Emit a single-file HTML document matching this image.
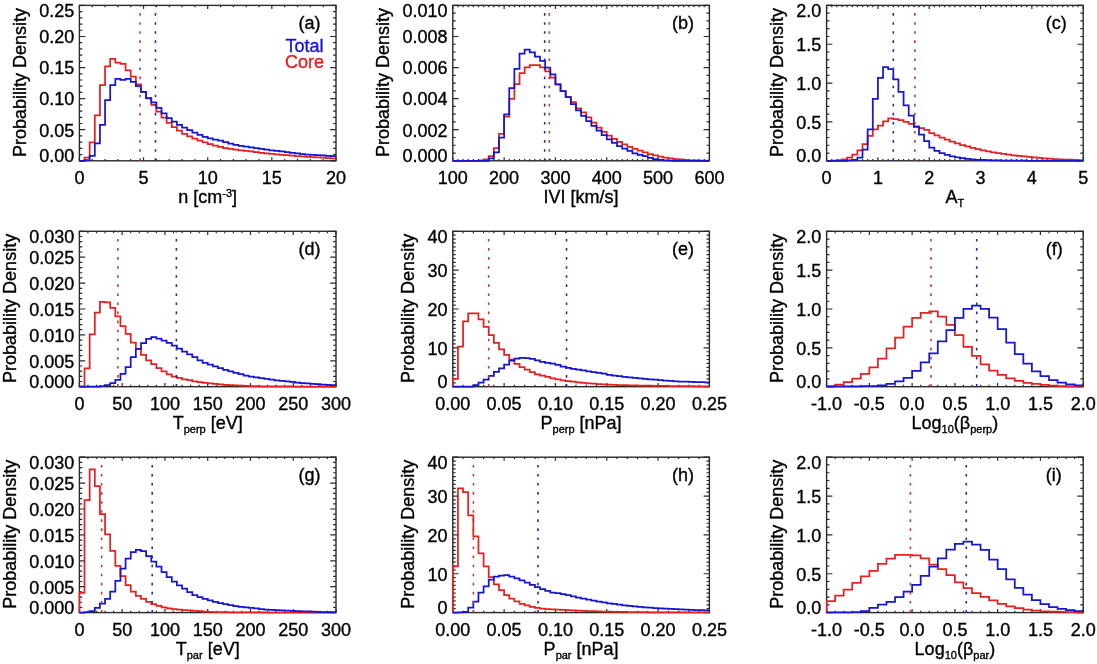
<!DOCTYPE html>
<html><head><meta charset="utf-8"><style>
html,body{margin:0;padding:0;background:#fff;}
svg{display:block;filter:blur(0.45px);}
text{font-family:"Liberation Sans",sans-serif;font-size:18px;fill:#000;stroke:#000;stroke-width:0.35px;}
</style></head><body>
<svg width="1097" height="664" viewBox="0 0 1097 664">
<rect width="1097" height="664" fill="#fff"/>
<clipPath id="cpa"><rect x="78.40" y="5.40" width="258.60" height="156.60"/></clipPath>
<rect x="79.40" y="5.40" width="256.60" height="155.40" fill="none" stroke="#2a2a2a" stroke-width="1.4"/>
<path d="M79.40,160.80v-3.6M79.40,5.40v3.6M92.23,160.80v-1.9M92.23,5.40v1.9M105.06,160.80v-1.9M105.06,5.40v1.9M117.89,160.80v-1.9M117.89,5.40v1.9M130.72,160.80v-1.9M130.72,5.40v1.9M143.55,160.80v-3.6M143.55,5.40v3.6M156.38,160.80v-1.9M156.38,5.40v1.9M169.21,160.80v-1.9M169.21,5.40v1.9M182.04,160.80v-1.9M182.04,5.40v1.9M194.87,160.80v-1.9M194.87,5.40v1.9M207.70,160.80v-3.6M207.70,5.40v3.6M220.53,160.80v-1.9M220.53,5.40v1.9M233.36,160.80v-1.9M233.36,5.40v1.9M246.19,160.80v-1.9M246.19,5.40v1.9M259.02,160.80v-1.9M259.02,5.40v1.9M271.85,160.80v-3.6M271.85,5.40v3.6M284.68,160.80v-1.9M284.68,5.40v1.9M297.51,160.80v-1.9M297.51,5.40v1.9M310.34,160.80v-1.9M310.34,5.40v1.9M323.17,160.80v-1.9M323.17,5.40v1.9M336.00,160.80v-3.6M336.00,5.40v3.6M79.40,160.80h5.8M336.00,160.80h-5.8M79.40,154.58h2.9M336.00,154.58h-2.9M79.40,148.37h2.9M336.00,148.37h-2.9M79.40,142.15h2.9M336.00,142.15h-2.9M79.40,135.94h2.9M336.00,135.94h-2.9M79.40,129.72h5.8M336.00,129.72h-5.8M79.40,123.50h2.9M336.00,123.50h-2.9M79.40,117.29h2.9M336.00,117.29h-2.9M79.40,111.07h2.9M336.00,111.07h-2.9M79.40,104.86h2.9M336.00,104.86h-2.9M79.40,98.64h5.8M336.00,98.64h-5.8M79.40,92.42h2.9M336.00,92.42h-2.9M79.40,86.21h2.9M336.00,86.21h-2.9M79.40,79.99h2.9M336.00,79.99h-2.9M79.40,73.78h2.9M336.00,73.78h-2.9M79.40,67.56h5.8M336.00,67.56h-5.8M79.40,61.34h2.9M336.00,61.34h-2.9M79.40,55.13h2.9M336.00,55.13h-2.9M79.40,48.91h2.9M336.00,48.91h-2.9M79.40,42.70h2.9M336.00,42.70h-2.9M79.40,36.48h5.8M336.00,36.48h-5.8M79.40,30.26h2.9M336.00,30.26h-2.9M79.40,24.05h2.9M336.00,24.05h-2.9M79.40,17.83h2.9M336.00,17.83h-2.9M79.40,11.62h2.9M336.00,11.62h-2.9M79.40,5.40h5.8M336.00,5.40h-5.8" stroke="#2a2a2a" stroke-width="1.2" fill="none"/>
<g clip-path="url(#cpa)">
<path d="M79.40,160.80 L79.40,160.80 L84.53,160.80 L84.53,157.69 L89.66,157.69 L89.66,142.40 L94.80,142.40 L94.80,115.42 L99.93,115.42 L99.93,85.21 L105.06,85.21 L105.06,66.32 L110.19,66.32 L110.19,58.98 L115.32,58.98 L115.32,62.59 L120.46,62.59 L120.46,63.83 L125.59,63.83 L125.59,70.30 L130.72,70.30 L130.72,76.57 L135.85,76.57 L135.85,84.34 L140.98,84.34 L140.98,91.80 L146.12,91.80 L146.12,98.33 L151.25,98.33 L151.25,104.86 L156.38,104.86 L156.38,111.67 L161.51,111.67 L161.51,117.67 L166.64,117.67 L166.64,122.90 L171.78,122.90 L171.78,127.05 L176.91,127.05 L176.91,130.65 L182.04,130.65 L182.04,133.75 L187.17,133.75 L187.17,136.38 L192.30,136.38 L192.30,138.63 L197.44,138.63 L197.44,140.61 L202.57,140.61 L202.57,142.42 L207.70,142.42 L207.70,144.13 L212.83,144.13 L212.83,145.68 L217.96,145.68 L217.96,146.99 L223.10,146.99 L223.10,148.01 L228.23,148.01 L228.23,148.88 L233.36,148.88 L233.36,149.64 L238.49,149.64 L238.49,150.31 L243.62,150.31 L243.62,150.87 L248.76,150.87 L248.76,151.48 L253.89,151.48 L253.89,152.12 L259.02,152.12 L259.02,152.76 L264.15,152.76 L264.15,153.34 L269.28,153.34 L269.28,153.85 L274.42,153.85 L274.42,154.31 L279.55,154.31 L279.55,154.76 L284.68,154.76 L284.68,155.19 L289.81,155.19 L289.81,155.62 L294.94,155.62 L294.94,156.03 L300.08,156.03 L300.08,156.42 L305.21,156.42 L305.21,156.77 L310.34,156.77 L310.34,157.09 L315.47,157.09 L315.47,157.40 L320.60,157.40 L320.60,157.71 L325.74,157.71 L325.74,158.01 L330.87,158.01 L330.87,158.31 L336.00,158.31" fill="none" stroke="#e52020" stroke-width="1.75" stroke-linejoin="miter"/>
<path d="M79.40,160.80 L79.40,160.80 L84.53,160.80 L84.53,160.18 L89.66,160.18 L89.66,155.83 L94.80,155.83 L94.80,143.40 L99.93,143.40 L99.93,124.75 L105.06,124.75 L105.06,100.07 L110.19,100.07 L110.19,85.21 L115.32,85.21 L115.32,78.75 L120.46,78.75 L120.46,79.99 L125.59,79.99 L125.59,78.87 L130.72,78.87 L130.72,81.98 L135.85,81.98 L135.85,86.21 L140.98,86.21 L140.98,91.80 L146.12,91.80 L146.12,98.02 L151.25,98.02 L151.25,102.37 L156.38,102.37 L156.38,107.96 L161.51,107.96 L161.51,113.27 L166.64,113.27 L166.64,118.05 L171.78,118.05 L171.78,121.73 L176.91,121.73 L176.91,124.84 L182.04,124.84 L182.04,127.59 L187.17,127.59 L187.17,130.20 L192.30,130.20 L192.30,132.70 L197.44,132.70 L197.44,134.95 L202.57,134.95 L202.57,136.80 L207.70,136.80 L207.70,138.25 L212.83,138.25 L212.83,139.50 L217.96,139.50 L217.96,140.74 L223.10,140.74 L223.10,142.14 L228.23,142.14 L228.23,143.57 L233.36,143.57 L233.36,144.84 L238.49,144.84 L238.49,145.78 L243.62,145.78 L243.62,146.51 L248.76,146.51 L248.76,147.27 L253.89,147.27 L253.89,148.08 L259.02,148.08 L259.02,148.88 L264.15,148.88 L264.15,149.61 L269.28,149.61 L269.28,150.26 L274.42,150.26 L274.42,150.86 L279.55,150.86 L279.55,151.45 L284.68,151.45 L284.68,152.07 L289.81,152.07 L289.81,152.78 L294.94,152.78 L294.94,153.49 L300.08,153.49 L300.08,154.09 L305.21,154.09 L305.21,154.52 L310.34,154.52 L310.34,154.86 L315.47,154.86 L315.47,155.17 L320.60,155.17 L320.60,155.47 L325.74,155.47 L325.74,155.75 L330.87,155.75 L330.87,156.01 L336.00,156.01" fill="none" stroke="#1515d2" stroke-width="1.75" stroke-linejoin="miter"/>
<line x1="140.09" y1="160.80" x2="140.09" y2="5.40" stroke="#c03a3a" stroke-width="1.6" stroke-dasharray="2.6 6.47"/>
<line x1="155.48" y1="160.80" x2="155.48" y2="5.40" stroke="#2a2a9a" stroke-width="1.6" stroke-dasharray="2.6 6.47"/>
</g>
<text x="79.40" y="184.00" text-anchor="middle">0</text>
<text x="143.55" y="184.00" text-anchor="middle">5</text>
<text x="207.70" y="184.00" text-anchor="middle">10</text>
<text x="271.85" y="184.00" text-anchor="middle">15</text>
<text x="336.00" y="184.00" text-anchor="middle">20</text>
<text x="74.20" y="162.00" text-anchor="end">0.00</text>
<text x="74.20" y="136.52" text-anchor="end">0.05</text>
<text x="74.20" y="105.44" text-anchor="end">0.10</text>
<text x="74.20" y="74.36" text-anchor="end">0.15</text>
<text x="74.20" y="43.28" text-anchor="end">0.20</text>
<text x="74.20" y="16.80" text-anchor="end">0.25</text>
<text x="207.70" y="202.80" text-anchor="middle">n [cm<tspan dy="-6" font-size="11">-3</tspan><tspan dy="6">]</tspan></text>
<text transform="translate(25.77,82.50) rotate(-90)" text-anchor="middle">Probability Density</text>
<text x="298.60" y="29.10">(a)</text>
<text x="304.50" y="51.90" text-anchor="middle" style="fill:#1515d2;stroke:#1515d2">Total</text>
<text x="304.50" y="67.70" text-anchor="middle" style="fill:#e52020;stroke:#e52020">Core</text>
<clipPath id="cpb"><rect x="451.80" y="5.40" width="258.60" height="156.60"/></clipPath>
<rect x="452.80" y="5.40" width="256.60" height="155.40" fill="none" stroke="#2a2a2a" stroke-width="1.4"/>
<path d="M452.80,160.80v-3.6M452.80,5.40v3.6M457.93,160.80v-1.9M457.93,5.40v1.9M463.06,160.80v-1.9M463.06,5.40v1.9M468.20,160.80v-1.9M468.20,5.40v1.9M473.33,160.80v-1.9M473.33,5.40v1.9M478.46,160.80v-1.9M478.46,5.40v1.9M483.59,160.80v-1.9M483.59,5.40v1.9M488.72,160.80v-1.9M488.72,5.40v1.9M493.86,160.80v-1.9M493.86,5.40v1.9M498.99,160.80v-1.9M498.99,5.40v1.9M504.12,160.80v-3.6M504.12,5.40v3.6M509.25,160.80v-1.9M509.25,5.40v1.9M514.38,160.80v-1.9M514.38,5.40v1.9M519.52,160.80v-1.9M519.52,5.40v1.9M524.65,160.80v-1.9M524.65,5.40v1.9M529.78,160.80v-1.9M529.78,5.40v1.9M534.91,160.80v-1.9M534.91,5.40v1.9M540.04,160.80v-1.9M540.04,5.40v1.9M545.18,160.80v-1.9M545.18,5.40v1.9M550.31,160.80v-1.9M550.31,5.40v1.9M555.44,160.80v-3.6M555.44,5.40v3.6M560.57,160.80v-1.9M560.57,5.40v1.9M565.70,160.80v-1.9M565.70,5.40v1.9M570.84,160.80v-1.9M570.84,5.40v1.9M575.97,160.80v-1.9M575.97,5.40v1.9M581.10,160.80v-1.9M581.10,5.40v1.9M586.23,160.80v-1.9M586.23,5.40v1.9M591.36,160.80v-1.9M591.36,5.40v1.9M596.50,160.80v-1.9M596.50,5.40v1.9M601.63,160.80v-1.9M601.63,5.40v1.9M606.76,160.80v-3.6M606.76,5.40v3.6M611.89,160.80v-1.9M611.89,5.40v1.9M617.02,160.80v-1.9M617.02,5.40v1.9M622.16,160.80v-1.9M622.16,5.40v1.9M627.29,160.80v-1.9M627.29,5.40v1.9M632.42,160.80v-1.9M632.42,5.40v1.9M637.55,160.80v-1.9M637.55,5.40v1.9M642.68,160.80v-1.9M642.68,5.40v1.9M647.82,160.80v-1.9M647.82,5.40v1.9M652.95,160.80v-1.9M652.95,5.40v1.9M658.08,160.80v-3.6M658.08,5.40v3.6M663.21,160.80v-1.9M663.21,5.40v1.9M668.34,160.80v-1.9M668.34,5.40v1.9M673.48,160.80v-1.9M673.48,5.40v1.9M678.61,160.80v-1.9M678.61,5.40v1.9M683.74,160.80v-1.9M683.74,5.40v1.9M688.87,160.80v-1.9M688.87,5.40v1.9M694.00,160.80v-1.9M694.00,5.40v1.9M699.14,160.80v-1.9M699.14,5.40v1.9M704.27,160.80v-1.9M704.27,5.40v1.9M709.40,160.80v-3.6M709.40,5.40v3.6M452.80,160.80h5.8M709.40,160.80h-5.8M452.80,153.03h2.9M709.40,153.03h-2.9M452.80,145.26h2.9M709.40,145.26h-2.9M452.80,137.49h2.9M709.40,137.49h-2.9M452.80,129.72h5.8M709.40,129.72h-5.8M452.80,121.95h2.9M709.40,121.95h-2.9M452.80,114.18h2.9M709.40,114.18h-2.9M452.80,106.41h2.9M709.40,106.41h-2.9M452.80,98.64h5.8M709.40,98.64h-5.8M452.80,90.87h2.9M709.40,90.87h-2.9M452.80,83.10h2.9M709.40,83.10h-2.9M452.80,75.33h2.9M709.40,75.33h-2.9M452.80,67.56h5.8M709.40,67.56h-5.8M452.80,59.79h2.9M709.40,59.79h-2.9M452.80,52.02h2.9M709.40,52.02h-2.9M452.80,44.25h2.9M709.40,44.25h-2.9M452.80,36.48h5.8M709.40,36.48h-5.8M452.80,28.71h2.9M709.40,28.71h-2.9M452.80,20.94h2.9M709.40,20.94h-2.9M452.80,13.17h2.9M709.40,13.17h-2.9M452.80,5.40h5.8M709.40,5.40h-5.8" stroke="#2a2a2a" stroke-width="1.2" fill="none"/>
<g clip-path="url(#cpb)">
<path d="M452.80,160.80 L452.80,160.80 L457.93,160.80 L457.93,160.80 L463.06,160.80 L463.06,160.80 L468.20,160.80 L468.20,160.80 L473.33,160.80 L473.33,160.80 L478.46,160.80 L478.46,160.33 L483.59,160.33 L483.59,159.25 L488.72,159.25 L488.72,156.14 L493.86,156.14 L493.86,148.06 L498.99,148.06 L498.99,133.92 L504.12,133.92 L504.12,116.51 L509.25,116.51 L509.25,98.80 L514.38,98.80 L514.38,84.03 L519.52,84.03 L519.52,73.15 L524.65,73.15 L524.65,67.25 L529.78,67.25 L529.78,65.07 L534.91,65.07 L534.91,65.23 L540.04,65.23 L540.04,67.25 L545.18,67.25 L545.18,71.45 L550.31,71.45 L550.31,77.66 L555.44,77.66 L555.44,84.34 L560.57,84.34 L560.57,91.18 L565.70,91.18 L565.70,97.09 L570.84,97.09 L570.84,102.06 L575.97,102.06 L575.97,108.27 L581.10,108.27 L581.10,112.39 L586.23,112.39 L586.23,117.27 L591.36,117.27 L591.36,122.69 L596.50,122.69 L596.50,127.50 L601.63,127.50 L601.63,131.81 L606.76,131.81 L606.76,135.63 L611.89,135.63 L611.89,138.92 L617.02,138.92 L617.02,141.84 L622.16,141.84 L622.16,144.48 L627.29,144.48 L627.29,146.81 L632.42,146.81 L632.42,148.84 L637.55,148.84 L637.55,150.65 L642.68,150.65 L642.68,152.34 L647.82,152.34 L647.82,154.12 L652.95,154.12 L652.95,155.49 L658.08,155.49 L658.08,156.61 L663.21,156.61 L663.21,157.74 L668.34,157.74 L668.34,158.49 L673.48,158.49 L673.48,159.03 L678.61,159.03 L678.61,159.45 L683.74,159.45 L683.74,159.91 L688.87,159.91 L688.87,160.26 L694.00,160.26 L694.00,160.46 L699.14,160.46 L699.14,160.58 L704.27,160.58 L704.27,160.64 L709.40,160.64" fill="none" stroke="#e52020" stroke-width="1.75" stroke-linejoin="miter"/>
<path d="M452.80,160.80 L452.80,160.80 L457.93,160.80 L457.93,160.80 L463.06,160.80 L463.06,160.80 L468.20,160.80 L468.20,160.80 L473.33,160.80 L473.33,160.80 L478.46,160.80 L478.46,160.80 L483.59,160.80 L483.59,160.80 L488.72,160.80 L488.72,158.47 L493.86,158.47 L493.86,152.25 L498.99,152.25 L498.99,137.65 L504.12,137.65 L504.12,114.49 L509.25,114.49 L509.25,88.23 L514.38,88.23 L514.38,68.96 L519.52,68.96 L519.52,53.73 L524.65,53.73 L524.65,49.53 L529.78,49.53 L529.78,52.49 L534.91,52.49 L534.91,56.53 L540.04,56.53 L540.04,60.88 L545.18,60.88 L545.18,67.56 L550.31,67.56 L550.31,74.40 L555.44,74.40 L555.44,84.34 L560.57,84.34 L560.57,91.03 L565.70,91.03 L565.70,97.09 L570.84,97.09 L570.84,104.23 L575.97,104.23 L575.97,110.45 L581.10,110.45 L581.10,115.93 L586.23,115.93 L586.23,121.06 L591.36,121.06 L591.36,125.96 L596.50,125.96 L596.50,130.65 L601.63,130.65 L601.63,135.23 L606.76,135.23 L606.76,139.35 L611.89,139.35 L611.89,142.98 L617.02,142.98 L617.02,146.17 L622.16,146.17 L622.16,148.71 L627.29,148.71 L627.29,150.85 L632.42,150.85 L632.42,153.27 L637.55,153.27 L637.55,154.98 L642.68,154.98 L642.68,156.21 L647.82,156.21 L647.82,157.92 L652.95,157.92 L652.95,159.06 L658.08,159.06 L658.08,159.81 L663.21,159.81 L663.21,160.39 L668.34,160.39 L668.34,160.64 L673.48,160.64 L673.48,160.78 L678.61,160.78 L678.61,160.80 L683.74,160.80 L683.74,160.80 L688.87,160.80 L688.87,160.80 L694.00,160.80 L694.00,160.80 L699.14,160.80 L699.14,160.80 L704.27,160.80 L704.27,160.80 L709.40,160.80" fill="none" stroke="#1515d2" stroke-width="1.75" stroke-linejoin="miter"/>
<line x1="549.28" y1="160.80" x2="549.28" y2="5.40" stroke="#c03a3a" stroke-width="1.6" stroke-dasharray="2.6 6.47"/>
<line x1="544.66" y1="160.80" x2="544.66" y2="5.40" stroke="#2a2a9a" stroke-width="1.6" stroke-dasharray="2.6 6.47"/>
</g>
<text x="452.80" y="184.00" text-anchor="middle">100</text>
<text x="504.12" y="184.00" text-anchor="middle">200</text>
<text x="555.44" y="184.00" text-anchor="middle">300</text>
<text x="606.76" y="184.00" text-anchor="middle">400</text>
<text x="658.08" y="184.00" text-anchor="middle">500</text>
<text x="709.40" y="184.00" text-anchor="middle">600</text>
<text x="447.60" y="162.00" text-anchor="end">0.000</text>
<text x="447.60" y="136.52" text-anchor="end">0.002</text>
<text x="447.60" y="105.44" text-anchor="end">0.004</text>
<text x="447.60" y="74.36" text-anchor="end">0.006</text>
<text x="447.60" y="43.28" text-anchor="end">0.008</text>
<text x="447.60" y="16.80" text-anchor="end">0.010</text>
<text x="581.10" y="202.80" text-anchor="middle">IVI [km/s]</text>
<text transform="translate(389.16,82.50) rotate(-90)" text-anchor="middle">Probability Density</text>
<text x="672.00" y="29.10">(b)</text>
<clipPath id="cpc"><rect x="825.60" y="5.40" width="258.60" height="156.60"/></clipPath>
<rect x="826.60" y="5.40" width="256.60" height="155.40" fill="none" stroke="#2a2a2a" stroke-width="1.4"/>
<path d="M826.60,160.80v-3.6M826.60,5.40v3.6M831.73,160.80v-1.9M831.73,5.40v1.9M836.86,160.80v-1.9M836.86,5.40v1.9M842.00,160.80v-1.9M842.00,5.40v1.9M847.13,160.80v-1.9M847.13,5.40v1.9M852.26,160.80v-1.9M852.26,5.40v1.9M857.39,160.80v-1.9M857.39,5.40v1.9M862.52,160.80v-1.9M862.52,5.40v1.9M867.66,160.80v-1.9M867.66,5.40v1.9M872.79,160.80v-1.9M872.79,5.40v1.9M877.92,160.80v-3.6M877.92,5.40v3.6M883.05,160.80v-1.9M883.05,5.40v1.9M888.18,160.80v-1.9M888.18,5.40v1.9M893.32,160.80v-1.9M893.32,5.40v1.9M898.45,160.80v-1.9M898.45,5.40v1.9M903.58,160.80v-1.9M903.58,5.40v1.9M908.71,160.80v-1.9M908.71,5.40v1.9M913.84,160.80v-1.9M913.84,5.40v1.9M918.98,160.80v-1.9M918.98,5.40v1.9M924.11,160.80v-1.9M924.11,5.40v1.9M929.24,160.80v-3.6M929.24,5.40v3.6M934.37,160.80v-1.9M934.37,5.40v1.9M939.50,160.80v-1.9M939.50,5.40v1.9M944.64,160.80v-1.9M944.64,5.40v1.9M949.77,160.80v-1.9M949.77,5.40v1.9M954.90,160.80v-1.9M954.90,5.40v1.9M960.03,160.80v-1.9M960.03,5.40v1.9M965.16,160.80v-1.9M965.16,5.40v1.9M970.30,160.80v-1.9M970.30,5.40v1.9M975.43,160.80v-1.9M975.43,5.40v1.9M980.56,160.80v-3.6M980.56,5.40v3.6M985.69,160.80v-1.9M985.69,5.40v1.9M990.82,160.80v-1.9M990.82,5.40v1.9M995.96,160.80v-1.9M995.96,5.40v1.9M1001.09,160.80v-1.9M1001.09,5.40v1.9M1006.22,160.80v-1.9M1006.22,5.40v1.9M1011.35,160.80v-1.9M1011.35,5.40v1.9M1016.48,160.80v-1.9M1016.48,5.40v1.9M1021.62,160.80v-1.9M1021.62,5.40v1.9M1026.75,160.80v-1.9M1026.75,5.40v1.9M1031.88,160.80v-3.6M1031.88,5.40v3.6M1037.01,160.80v-1.9M1037.01,5.40v1.9M1042.14,160.80v-1.9M1042.14,5.40v1.9M1047.28,160.80v-1.9M1047.28,5.40v1.9M1052.41,160.80v-1.9M1052.41,5.40v1.9M1057.54,160.80v-1.9M1057.54,5.40v1.9M1062.67,160.80v-1.9M1062.67,5.40v1.9M1067.80,160.80v-1.9M1067.80,5.40v1.9M1072.94,160.80v-1.9M1072.94,5.40v1.9M1078.07,160.80v-1.9M1078.07,5.40v1.9M1083.20,160.80v-3.6M1083.20,5.40v3.6M826.60,160.80h5.8M1083.20,160.80h-5.8M826.60,153.03h2.9M1083.20,153.03h-2.9M826.60,145.26h2.9M1083.20,145.26h-2.9M826.60,137.49h2.9M1083.20,137.49h-2.9M826.60,129.72h2.9M1083.20,129.72h-2.9M826.60,121.95h5.8M1083.20,121.95h-5.8M826.60,114.18h2.9M1083.20,114.18h-2.9M826.60,106.41h2.9M1083.20,106.41h-2.9M826.60,98.64h2.9M1083.20,98.64h-2.9M826.60,90.87h2.9M1083.20,90.87h-2.9M826.60,83.10h5.8M1083.20,83.10h-5.8M826.60,75.33h2.9M1083.20,75.33h-2.9M826.60,67.56h2.9M1083.20,67.56h-2.9M826.60,59.79h2.9M1083.20,59.79h-2.9M826.60,52.02h2.9M1083.20,52.02h-2.9M826.60,44.25h5.8M1083.20,44.25h-5.8M826.60,36.48h2.9M1083.20,36.48h-2.9M826.60,28.71h2.9M1083.20,28.71h-2.9M826.60,20.94h2.9M1083.20,20.94h-2.9M826.60,13.17h2.9M1083.20,13.17h-2.9M826.60,5.40h5.8M1083.20,5.40h-5.8" stroke="#2a2a2a" stroke-width="1.2" fill="none"/>
<g clip-path="url(#cpc)">
<path d="M826.60,160.80 L826.60,160.80 L831.73,160.80 L831.73,160.64 L836.86,160.64 L836.86,160.18 L842.00,160.18 L842.00,159.25 L847.13,159.25 L847.13,157.69 L852.26,157.69 L852.26,154.51 L857.39,154.51 L857.39,150.31 L862.52,150.31 L862.52,144.02 L867.66,144.02 L867.66,135.94 L872.79,135.94 L872.79,129.33 L877.92,129.33 L877.92,125.68 L883.05,125.68 L883.05,121.41 L888.18,121.41 L888.18,118.38 L893.32,118.38 L893.32,119.00 L898.45,119.00 L898.45,120.24 L903.58,120.24 L903.58,121.95 L908.71,121.95 L908.71,123.89 L913.84,123.89 L913.84,126.30 L918.98,126.30 L918.98,128.09 L924.11,128.09 L924.11,129.88 L929.24,129.88 L929.24,133.01 L934.37,133.01 L934.37,135.27 L939.50,135.27 L939.50,137.54 L944.64,137.54 L944.64,139.73 L949.77,139.73 L949.77,141.65 L954.90,141.65 L954.90,143.40 L960.03,143.40 L960.03,145.00 L965.16,145.00 L965.16,146.48 L970.30,146.48 L970.30,147.82 L975.43,147.82 L975.43,149.14 L980.56,149.14 L980.56,150.49 L985.69,150.49 L985.69,151.48 L990.82,151.48 L990.82,152.25 L995.96,152.25 L995.96,153.07 L1001.09,153.07 L1001.09,153.91 L1006.22,153.91 L1006.22,154.65 L1011.35,154.65 L1011.35,155.29 L1016.48,155.29 L1016.48,155.87 L1021.62,155.87 L1021.62,156.42 L1026.75,156.42 L1026.75,156.95 L1031.88,156.95 L1031.88,157.48 L1037.01,157.48 L1037.01,157.98 L1042.14,157.98 L1042.14,158.39 L1047.28,158.39 L1047.28,158.73 L1052.41,158.73 L1052.41,159.02 L1057.54,159.02 L1057.54,159.28 L1062.67,159.28 L1062.67,159.52 L1067.80,159.52 L1067.80,159.73 L1072.94,159.73 L1072.94,159.92 L1078.07,159.92 L1078.07,160.09 L1083.20,160.09" fill="none" stroke="#e52020" stroke-width="1.75" stroke-linejoin="miter"/>
<path d="M826.60,160.80 L826.60,160.80 L831.73,160.80 L831.73,160.80 L836.86,160.80 L836.86,160.80 L842.00,160.80 L842.00,160.80 L847.13,160.80 L847.13,160.49 L852.26,160.49 L852.26,159.87 L857.39,159.87 L857.39,157.69 L862.52,157.69 L862.52,149.53 L867.66,149.53 L867.66,129.33 L872.79,129.33 L872.79,98.80 L877.92,98.80 L877.92,77.82 L883.05,77.82 L883.05,67.02 L888.18,67.02 L888.18,69.04 L893.32,69.04 L893.32,79.29 L898.45,79.29 L898.45,91.88 L903.58,91.88 L903.58,105.48 L908.71,105.48 L908.71,115.73 L913.84,115.73 L913.84,126.92 L918.98,126.92 L918.98,134.69 L924.11,134.69 L924.11,141.06 L929.24,141.06 L929.24,147.56 L934.37,147.56 L934.37,150.99 L939.50,150.99 L939.50,153.22 L944.64,153.22 L944.64,154.83 L949.77,154.83 L949.77,156.25 L954.90,156.25 L954.90,157.38 L960.03,157.38 L960.03,158.13 L965.16,158.13 L965.16,158.75 L970.30,158.75 L970.30,159.37 L975.43,159.37 L975.43,159.75 L980.56,159.75 L980.56,159.95 L985.69,159.95 L985.69,160.14 L990.82,160.14 L990.82,160.32 L995.96,160.32 L995.96,160.46 L1001.09,160.46 L1001.09,160.55 L1006.22,160.55 L1006.22,160.62 L1011.35,160.62 L1011.35,160.67 L1016.48,160.67 L1016.48,160.71 L1021.62,160.71 L1021.62,160.73 L1026.75,160.73 L1026.75,160.75 L1031.88,160.75 L1031.88,160.77 L1037.01,160.77 L1037.01,160.78 L1042.14,160.78 L1042.14,160.79 L1047.28,160.79 L1047.28,160.80 L1052.41,160.80 L1052.41,160.80 L1057.54,160.80 L1057.54,160.80 L1062.67,160.80 L1062.67,160.80 L1067.80,160.80 L1067.80,160.80 L1072.94,160.80 L1072.94,160.80 L1078.07,160.80 L1078.07,160.80 L1083.20,160.80" fill="none" stroke="#1515d2" stroke-width="1.75" stroke-linejoin="miter"/>
<line x1="914.87" y1="160.80" x2="914.87" y2="5.40" stroke="#c03a3a" stroke-width="1.6" stroke-dasharray="2.6 6.47"/>
<line x1="893.32" y1="160.80" x2="893.32" y2="5.40" stroke="#2a2a9a" stroke-width="1.6" stroke-dasharray="2.6 6.47"/>
</g>
<text x="826.60" y="184.00" text-anchor="middle">0</text>
<text x="877.92" y="184.00" text-anchor="middle">1</text>
<text x="929.24" y="184.00" text-anchor="middle">2</text>
<text x="980.56" y="184.00" text-anchor="middle">3</text>
<text x="1031.88" y="184.00" text-anchor="middle">4</text>
<text x="1083.20" y="184.00" text-anchor="middle">5</text>
<text x="821.40" y="162.00" text-anchor="end">0.0</text>
<text x="821.40" y="128.75" text-anchor="end">0.5</text>
<text x="821.40" y="89.90" text-anchor="end">1.0</text>
<text x="821.40" y="51.05" text-anchor="end">1.5</text>
<text x="821.40" y="16.80" text-anchor="end">2.0</text>
<text x="954.90" y="202.80" text-anchor="middle">A<tspan dy="4.3" font-size="11">T</tspan></text>
<text transform="translate(782.98,82.50) rotate(-90)" text-anchor="middle">Probability Density</text>
<text x="1045.80" y="29.10">(c)</text>
<clipPath id="cpd"><rect x="78.40" y="231.30" width="258.60" height="156.60"/></clipPath>
<rect x="79.40" y="231.30" width="256.60" height="155.40" fill="none" stroke="#2a2a2a" stroke-width="1.4"/>
<path d="M79.40,386.70v-3.6M79.40,231.30v3.6M87.95,386.70v-1.9M87.95,231.30v1.9M96.51,386.70v-1.9M96.51,231.30v1.9M105.06,386.70v-1.9M105.06,231.30v1.9M113.61,386.70v-1.9M113.61,231.30v1.9M122.17,386.70v-3.6M122.17,231.30v3.6M130.72,386.70v-1.9M130.72,231.30v1.9M139.27,386.70v-1.9M139.27,231.30v1.9M147.83,386.70v-1.9M147.83,231.30v1.9M156.38,386.70v-1.9M156.38,231.30v1.9M164.93,386.70v-3.6M164.93,231.30v3.6M173.49,386.70v-1.9M173.49,231.30v1.9M182.04,386.70v-1.9M182.04,231.30v1.9M190.59,386.70v-1.9M190.59,231.30v1.9M199.15,386.70v-1.9M199.15,231.30v1.9M207.70,386.70v-3.6M207.70,231.30v3.6M216.25,386.70v-1.9M216.25,231.30v1.9M224.81,386.70v-1.9M224.81,231.30v1.9M233.36,386.70v-1.9M233.36,231.30v1.9M241.91,386.70v-1.9M241.91,231.30v1.9M250.47,386.70v-3.6M250.47,231.30v3.6M259.02,386.70v-1.9M259.02,231.30v1.9M267.57,386.70v-1.9M267.57,231.30v1.9M276.13,386.70v-1.9M276.13,231.30v1.9M284.68,386.70v-1.9M284.68,231.30v1.9M293.23,386.70v-3.6M293.23,231.30v3.6M301.79,386.70v-1.9M301.79,231.30v1.9M310.34,386.70v-1.9M310.34,231.30v1.9M318.89,386.70v-1.9M318.89,231.30v1.9M327.45,386.70v-1.9M327.45,231.30v1.9M336.00,386.70v-3.6M336.00,231.30v3.6M79.40,386.70h5.8M336.00,386.70h-5.8M79.40,381.52h2.9M336.00,381.52h-2.9M79.40,376.34h2.9M336.00,376.34h-2.9M79.40,371.16h2.9M336.00,371.16h-2.9M79.40,365.98h2.9M336.00,365.98h-2.9M79.40,360.80h5.8M336.00,360.80h-5.8M79.40,355.62h2.9M336.00,355.62h-2.9M79.40,350.44h2.9M336.00,350.44h-2.9M79.40,345.26h2.9M336.00,345.26h-2.9M79.40,340.08h2.9M336.00,340.08h-2.9M79.40,334.90h5.8M336.00,334.90h-5.8M79.40,329.72h2.9M336.00,329.72h-2.9M79.40,324.54h2.9M336.00,324.54h-2.9M79.40,319.36h2.9M336.00,319.36h-2.9M79.40,314.18h2.9M336.00,314.18h-2.9M79.40,309.00h5.8M336.00,309.00h-5.8M79.40,303.82h2.9M336.00,303.82h-2.9M79.40,298.64h2.9M336.00,298.64h-2.9M79.40,293.46h2.9M336.00,293.46h-2.9M79.40,288.28h2.9M336.00,288.28h-2.9M79.40,283.10h5.8M336.00,283.10h-5.8M79.40,277.92h2.9M336.00,277.92h-2.9M79.40,272.74h2.9M336.00,272.74h-2.9M79.40,267.56h2.9M336.00,267.56h-2.9M79.40,262.38h2.9M336.00,262.38h-2.9M79.40,257.20h5.8M336.00,257.20h-5.8M79.40,252.02h2.9M336.00,252.02h-2.9M79.40,246.84h2.9M336.00,246.84h-2.9M79.40,241.66h2.9M336.00,241.66h-2.9M79.40,236.48h2.9M336.00,236.48h-2.9M79.40,231.30h5.8M336.00,231.30h-5.8" stroke="#2a2a2a" stroke-width="1.2" fill="none"/>
<g clip-path="url(#cpd)">
<path d="M79.40,386.70 L79.40,386.70 L84.53,386.70 L84.53,368.41 L89.66,368.41 L89.66,334.49 L94.80,334.49 L94.80,312.63 L99.93,312.63 L99.93,301.75 L105.06,301.75 L105.06,302.37 L110.19,302.37 L110.19,307.81 L115.32,307.81 L115.32,316.41 L120.46,316.41 L120.46,326.20 L125.59,326.20 L125.59,333.86 L130.72,333.86 L130.72,342.67 L135.85,342.67 L135.85,348.99 L140.98,348.99 L140.98,354.89 L146.12,354.89 L146.12,360.28 L151.25,360.28 L151.25,364.22 L156.38,364.22 L156.38,368.00 L161.51,368.00 L161.51,371.42 L166.64,371.42 L166.64,374.32 L171.78,374.32 L171.78,376.60 L176.91,376.60 L176.91,377.89 L182.04,377.89 L182.04,379.29 L187.17,379.29 L187.17,380.23 L192.30,380.23 L192.30,381.42 L197.44,381.42 L197.44,382.14 L202.57,382.14 L202.57,382.76 L207.70,382.76 L207.70,383.32 L212.83,383.32 L212.83,383.87 L217.96,383.87 L217.96,384.44 L223.10,384.44 L223.10,384.89 L228.23,384.89 L228.23,385.17 L233.36,385.17 L233.36,385.39 L238.49,385.39 L238.49,385.64 L243.62,385.64 L243.62,385.92 L248.76,385.92 L248.76,386.10 L253.89,386.10 L253.89,386.19 L259.02,386.19 L259.02,386.26 L264.15,386.26 L264.15,386.32 L269.28,386.32 L269.28,386.36 L274.42,386.36 L274.42,386.39 L279.55,386.39 L279.55,386.42 L284.68,386.42 L284.68,386.45 L289.81,386.45 L289.81,386.48 L294.94,386.48 L294.94,386.50 L300.08,386.50 L300.08,386.53 L305.21,386.53 L305.21,386.55 L310.34,386.55 L310.34,386.56 L315.47,386.56 L315.47,386.58 L320.60,386.58 L320.60,386.59 L325.74,386.59 L325.74,386.59 L330.87,386.59 L330.87,386.60 L336.00,386.60" fill="none" stroke="#e52020" stroke-width="1.75" stroke-linejoin="miter"/>
<path d="M79.40,386.70 L79.40,386.70 L84.53,386.70 L84.53,386.70 L89.66,386.70 L89.66,386.70 L94.80,386.70 L94.80,386.70 L99.93,386.70 L99.93,386.18 L105.06,386.18 L105.06,385.15 L110.19,385.15 L110.19,383.07 L115.32,383.07 L115.32,379.97 L120.46,379.97 L120.46,373.75 L125.59,373.75 L125.59,367.02 L130.72,367.02 L130.72,357.17 L135.85,357.17 L135.85,348.89 L140.98,348.89 L140.98,343.08 L146.12,343.08 L146.12,338.99 L151.25,338.99 L151.25,337.08 L156.38,337.08 L156.38,338.58 L161.51,338.58 L161.51,340.70 L166.64,340.70 L166.64,342.83 L171.78,342.83 L171.78,345.62 L176.91,345.62 L176.91,348.52 L182.04,348.52 L182.04,351.68 L187.17,351.68 L187.17,354.43 L192.30,354.43 L192.30,357.12 L197.44,357.12 L197.44,360.28 L202.57,360.28 L202.57,362.98 L207.70,362.98 L207.70,364.67 L212.83,364.67 L212.83,366.34 L217.96,366.34 L217.96,368.16 L223.10,368.16 L223.10,369.87 L228.23,369.87 L228.23,371.36 L233.36,371.36 L233.36,372.75 L238.49,372.75 L238.49,374.13 L243.62,374.13 L243.62,375.52 L248.76,375.52 L248.76,376.66 L253.89,376.66 L253.89,377.49 L259.02,377.49 L259.02,378.20 L264.15,378.20 L264.15,378.95 L269.28,378.95 L269.28,379.73 L274.42,379.73 L274.42,380.42 L279.55,380.42 L279.55,380.97 L284.68,380.97 L284.68,381.47 L289.81,381.47 L289.81,381.99 L294.94,381.99 L294.94,382.53 L300.08,382.53 L300.08,383.02 L305.21,383.02 L305.21,383.46 L310.34,383.46 L310.34,383.87 L315.47,383.87 L315.47,384.22 L320.60,384.22 L320.60,384.54 L325.74,384.54 L325.74,384.82 L330.87,384.82 L330.87,385.07 L336.00,385.07" fill="none" stroke="#1515d2" stroke-width="1.75" stroke-linejoin="miter"/>
<line x1="117.89" y1="386.70" x2="117.89" y2="231.30" stroke="#c03a3a" stroke-width="1.6" stroke-dasharray="2.6 6.47"/>
<line x1="176.39" y1="386.70" x2="176.39" y2="231.30" stroke="#2a2a9a" stroke-width="1.6" stroke-dasharray="2.6 6.47"/>
</g>
<text x="79.40" y="409.90" text-anchor="middle">0</text>
<text x="122.17" y="409.90" text-anchor="middle">50</text>
<text x="164.93" y="409.90" text-anchor="middle">100</text>
<text x="207.70" y="409.90" text-anchor="middle">150</text>
<text x="250.47" y="409.90" text-anchor="middle">200</text>
<text x="293.23" y="409.90" text-anchor="middle">250</text>
<text x="336.00" y="409.90" text-anchor="middle">300</text>
<text x="74.20" y="387.90" text-anchor="end">0.000</text>
<text x="74.20" y="367.60" text-anchor="end">0.005</text>
<text x="74.20" y="341.70" text-anchor="end">0.010</text>
<text x="74.20" y="315.80" text-anchor="end">0.015</text>
<text x="74.20" y="289.90" text-anchor="end">0.020</text>
<text x="74.20" y="264.00" text-anchor="end">0.025</text>
<text x="74.20" y="242.70" text-anchor="end">0.030</text>
<text x="207.70" y="428.70" text-anchor="middle">T<tspan dy="4.3" font-size="11">perp</tspan><tspan dy="-4.3"> [eV]</tspan></text>
<text transform="translate(15.76,308.40) rotate(-90)" text-anchor="middle">Probability Density</text>
<text x="298.60" y="255.00">(d)</text>
<clipPath id="cpe"><rect x="451.80" y="231.30" width="258.60" height="156.60"/></clipPath>
<rect x="452.80" y="231.30" width="256.60" height="155.40" fill="none" stroke="#2a2a2a" stroke-width="1.4"/>
<path d="M452.80,386.70v-3.6M452.80,231.30v3.6M463.06,386.70v-1.9M463.06,231.30v1.9M473.33,386.70v-1.9M473.33,231.30v1.9M483.59,386.70v-1.9M483.59,231.30v1.9M493.86,386.70v-1.9M493.86,231.30v1.9M504.12,386.70v-3.6M504.12,231.30v3.6M514.38,386.70v-1.9M514.38,231.30v1.9M524.65,386.70v-1.9M524.65,231.30v1.9M534.91,386.70v-1.9M534.91,231.30v1.9M545.18,386.70v-1.9M545.18,231.30v1.9M555.44,386.70v-3.6M555.44,231.30v3.6M565.70,386.70v-1.9M565.70,231.30v1.9M575.97,386.70v-1.9M575.97,231.30v1.9M586.23,386.70v-1.9M586.23,231.30v1.9M596.50,386.70v-1.9M596.50,231.30v1.9M606.76,386.70v-3.6M606.76,231.30v3.6M617.02,386.70v-1.9M617.02,231.30v1.9M627.29,386.70v-1.9M627.29,231.30v1.9M637.55,386.70v-1.9M637.55,231.30v1.9M647.82,386.70v-1.9M647.82,231.30v1.9M658.08,386.70v-3.6M658.08,231.30v3.6M668.34,386.70v-1.9M668.34,231.30v1.9M678.61,386.70v-1.9M678.61,231.30v1.9M688.87,386.70v-1.9M688.87,231.30v1.9M699.14,386.70v-1.9M699.14,231.30v1.9M709.40,386.70v-3.6M709.40,231.30v3.6M452.80,386.70h5.8M709.40,386.70h-5.8M452.80,382.82h2.9M709.40,382.82h-2.9M452.80,378.93h2.9M709.40,378.93h-2.9M452.80,375.05h2.9M709.40,375.05h-2.9M452.80,371.16h2.9M709.40,371.16h-2.9M452.80,367.28h2.9M709.40,367.28h-2.9M452.80,363.39h2.9M709.40,363.39h-2.9M452.80,359.51h2.9M709.40,359.51h-2.9M452.80,355.62h2.9M709.40,355.62h-2.9M452.80,351.74h2.9M709.40,351.74h-2.9M452.80,347.85h5.8M709.40,347.85h-5.8M452.80,343.97h2.9M709.40,343.97h-2.9M452.80,340.08h2.9M709.40,340.08h-2.9M452.80,336.20h2.9M709.40,336.20h-2.9M452.80,332.31h2.9M709.40,332.31h-2.9M452.80,328.43h2.9M709.40,328.43h-2.9M452.80,324.54h2.9M709.40,324.54h-2.9M452.80,320.66h2.9M709.40,320.66h-2.9M452.80,316.77h2.9M709.40,316.77h-2.9M452.80,312.89h2.9M709.40,312.89h-2.9M452.80,309.00h5.8M709.40,309.00h-5.8M452.80,305.12h2.9M709.40,305.12h-2.9M452.80,301.23h2.9M709.40,301.23h-2.9M452.80,297.35h2.9M709.40,297.35h-2.9M452.80,293.46h2.9M709.40,293.46h-2.9M452.80,289.58h2.9M709.40,289.58h-2.9M452.80,285.69h2.9M709.40,285.69h-2.9M452.80,281.81h2.9M709.40,281.81h-2.9M452.80,277.92h2.9M709.40,277.92h-2.9M452.80,274.04h2.9M709.40,274.04h-2.9M452.80,270.15h5.8M709.40,270.15h-5.8M452.80,266.27h2.9M709.40,266.27h-2.9M452.80,262.38h2.9M709.40,262.38h-2.9M452.80,258.50h2.9M709.40,258.50h-2.9M452.80,254.61h2.9M709.40,254.61h-2.9M452.80,250.73h2.9M709.40,250.73h-2.9M452.80,246.84h2.9M709.40,246.84h-2.9M452.80,242.96h2.9M709.40,242.96h-2.9M452.80,239.07h2.9M709.40,239.07h-2.9M452.80,235.19h2.9M709.40,235.19h-2.9M452.80,231.30h5.8M709.40,231.30h-5.8" stroke="#2a2a2a" stroke-width="1.2" fill="none"/>
<g clip-path="url(#cpe)">
<path d="M452.80,386.70 L452.80,378.93 L457.93,378.93 L457.93,346.68 L463.06,346.68 L463.06,321.43 L468.20,321.43 L468.20,313.27 L473.33,313.27 L473.33,313.27 L478.46,313.27 L478.46,319.49 L483.59,319.49 L483.59,326.87 L488.72,326.87 L488.72,335.03 L493.86,335.03 L493.86,342.80 L498.99,342.80 L498.99,349.40 L504.12,349.40 L504.12,354.84 L509.25,354.84 L509.25,359.51 L514.38,359.51 L514.38,363.78 L519.52,363.78 L519.52,367.00 L524.65,367.00 L524.65,369.68 L529.78,369.68 L529.78,372.01 L534.91,372.01 L534.91,374.42 L540.04,374.42 L540.04,375.71 L545.18,375.71 L545.18,376.90 L550.31,376.90 L550.31,378.25 L555.44,378.25 L555.44,379.43 L560.57,379.43 L560.57,380.44 L565.70,380.44 L565.70,381.13 L570.84,381.13 L570.84,381.71 L575.97,381.71 L575.97,382.38 L581.10,382.38 L581.10,382.94 L586.23,382.94 L586.23,383.33 L591.36,383.33 L591.36,383.71 L596.50,383.71 L596.50,384.08 L601.63,384.08 L601.63,384.38 L606.76,384.38 L606.76,384.64 L611.89,384.64 L611.89,384.84 L617.02,384.84 L617.02,385.02 L622.16,385.02 L622.16,385.17 L627.29,385.17 L627.29,385.31 L632.42,385.31 L632.42,385.43 L637.55,385.43 L637.55,385.53 L642.68,385.53 L642.68,385.62 L647.82,385.62 L647.82,385.71 L652.95,385.71 L652.95,385.79 L658.08,385.79 L658.08,385.87 L663.21,385.87 L663.21,385.95 L668.34,385.95 L668.34,386.02 L673.48,386.02 L673.48,386.09 L678.61,386.09 L678.61,386.14 L683.74,386.14 L683.74,386.18 L688.87,386.18 L688.87,386.22 L694.00,386.22 L694.00,386.26 L699.14,386.26 L699.14,386.29 L704.27,386.29 L704.27,386.31 L709.40,386.31" fill="none" stroke="#e52020" stroke-width="1.75" stroke-linejoin="miter"/>
<path d="M452.80,386.70 L452.80,386.70 L457.93,386.70 L457.93,386.70 L463.06,386.70 L463.06,386.70 L468.20,386.70 L468.20,386.70 L473.33,386.70 L473.33,385.15 L478.46,385.15 L478.46,382.62 L483.59,382.62 L483.59,379.71 L488.72,379.71 L488.72,375.82 L493.86,375.82 L493.86,371.94 L498.99,371.94 L498.99,368.44 L504.12,368.44 L504.12,364.56 L509.25,364.56 L509.25,360.67 L514.38,360.67 L514.38,358.73 L519.52,358.73 L519.52,357.95 L524.65,357.95 L524.65,358.10 L529.78,358.10 L529.78,358.91 L534.91,358.91 L534.91,360.36 L540.04,360.36 L540.04,361.76 L545.18,361.76 L545.18,362.92 L550.31,362.92 L550.31,363.72 L555.44,363.72 L555.44,364.93 L560.57,364.93 L560.57,366.61 L565.70,366.61 L565.70,367.85 L570.84,367.85 L570.84,368.86 L575.97,368.86 L575.97,369.63 L581.10,369.63 L581.10,370.41 L586.23,370.41 L586.23,371.32 L591.36,371.32 L591.36,372.10 L596.50,372.10 L596.50,372.77 L601.63,372.77 L601.63,373.69 L606.76,373.69 L606.76,374.75 L611.89,374.75 L611.89,375.56 L617.02,375.56 L617.02,376.22 L622.16,376.22 L622.16,376.80 L627.29,376.80 L627.29,377.34 L632.42,377.34 L632.42,377.85 L637.55,377.85 L637.55,378.35 L642.68,378.35 L642.68,378.82 L647.82,378.82 L647.82,379.26 L652.95,379.26 L652.95,379.69 L658.08,379.69 L658.08,380.11 L663.21,380.11 L663.21,380.53 L668.34,380.53 L668.34,380.93 L673.48,380.93 L673.48,381.27 L678.61,381.27 L678.61,381.51 L683.74,381.51 L683.74,381.73 L688.87,381.73 L688.87,381.93 L694.00,381.93 L694.00,382.10 L699.14,382.10 L699.14,382.22 L704.27,382.22 L704.27,382.30 L709.40,382.30" fill="none" stroke="#1515d2" stroke-width="1.75" stroke-linejoin="miter"/>
<line x1="488.72" y1="386.70" x2="488.72" y2="231.30" stroke="#c03a3a" stroke-width="1.6" stroke-dasharray="2.6 6.47"/>
<line x1="566.53" y1="386.70" x2="566.53" y2="231.30" stroke="#2a2a9a" stroke-width="1.6" stroke-dasharray="2.6 6.47"/>
</g>
<text x="452.80" y="409.90" text-anchor="middle">0.00</text>
<text x="504.12" y="409.90" text-anchor="middle">0.05</text>
<text x="555.44" y="409.90" text-anchor="middle">0.10</text>
<text x="606.76" y="409.90" text-anchor="middle">0.15</text>
<text x="658.08" y="409.90" text-anchor="middle">0.20</text>
<text x="709.40" y="409.90" text-anchor="middle">0.25</text>
<text x="447.60" y="387.90" text-anchor="end">0</text>
<text x="447.60" y="354.65" text-anchor="end">10</text>
<text x="447.60" y="315.80" text-anchor="end">20</text>
<text x="447.60" y="276.95" text-anchor="end">30</text>
<text x="447.60" y="242.70" text-anchor="end">40</text>
<text x="581.10" y="428.70" text-anchor="middle">P<tspan dy="4.3" font-size="11">perp</tspan><tspan dy="-4.3"> [nPa]</tspan></text>
<text transform="translate(414.18,308.40) rotate(-90)" text-anchor="middle">Probability Density</text>
<text x="672.00" y="255.00">(e)</text>
<clipPath id="cpf"><rect x="825.60" y="231.30" width="258.60" height="156.60"/></clipPath>
<rect x="826.60" y="231.30" width="256.60" height="155.40" fill="none" stroke="#2a2a2a" stroke-width="1.4"/>
<path d="M826.60,386.70v-3.6M826.60,231.30v3.6M835.15,386.70v-1.9M835.15,231.30v1.9M843.71,386.70v-1.9M843.71,231.30v1.9M852.26,386.70v-1.9M852.26,231.30v1.9M860.81,386.70v-1.9M860.81,231.30v1.9M869.37,386.70v-3.6M869.37,231.30v3.6M877.92,386.70v-1.9M877.92,231.30v1.9M886.47,386.70v-1.9M886.47,231.30v1.9M895.03,386.70v-1.9M895.03,231.30v1.9M903.58,386.70v-1.9M903.58,231.30v1.9M912.13,386.70v-3.6M912.13,231.30v3.6M920.69,386.70v-1.9M920.69,231.30v1.9M929.24,386.70v-1.9M929.24,231.30v1.9M937.79,386.70v-1.9M937.79,231.30v1.9M946.35,386.70v-1.9M946.35,231.30v1.9M954.90,386.70v-3.6M954.90,231.30v3.6M963.45,386.70v-1.9M963.45,231.30v1.9M972.01,386.70v-1.9M972.01,231.30v1.9M980.56,386.70v-1.9M980.56,231.30v1.9M989.11,386.70v-1.9M989.11,231.30v1.9M997.67,386.70v-3.6M997.67,231.30v3.6M1006.22,386.70v-1.9M1006.22,231.30v1.9M1014.77,386.70v-1.9M1014.77,231.30v1.9M1023.33,386.70v-1.9M1023.33,231.30v1.9M1031.88,386.70v-1.9M1031.88,231.30v1.9M1040.43,386.70v-3.6M1040.43,231.30v3.6M1048.99,386.70v-1.9M1048.99,231.30v1.9M1057.54,386.70v-1.9M1057.54,231.30v1.9M1066.09,386.70v-1.9M1066.09,231.30v1.9M1074.65,386.70v-1.9M1074.65,231.30v1.9M1083.20,386.70v-3.6M1083.20,231.30v3.6M826.60,386.70h5.8M1083.20,386.70h-5.8M826.60,378.93h2.9M1083.20,378.93h-2.9M826.60,371.16h2.9M1083.20,371.16h-2.9M826.60,363.39h2.9M1083.20,363.39h-2.9M826.60,355.62h2.9M1083.20,355.62h-2.9M826.60,347.85h5.8M1083.20,347.85h-5.8M826.60,340.08h2.9M1083.20,340.08h-2.9M826.60,332.31h2.9M1083.20,332.31h-2.9M826.60,324.54h2.9M1083.20,324.54h-2.9M826.60,316.77h2.9M1083.20,316.77h-2.9M826.60,309.00h5.8M1083.20,309.00h-5.8M826.60,301.23h2.9M1083.20,301.23h-2.9M826.60,293.46h2.9M1083.20,293.46h-2.9M826.60,285.69h2.9M1083.20,285.69h-2.9M826.60,277.92h2.9M1083.20,277.92h-2.9M826.60,270.15h5.8M1083.20,270.15h-5.8M826.60,262.38h2.9M1083.20,262.38h-2.9M826.60,254.61h2.9M1083.20,254.61h-2.9M826.60,246.84h2.9M1083.20,246.84h-2.9M826.60,239.07h2.9M1083.20,239.07h-2.9M826.60,231.30h5.8M1083.20,231.30h-5.8" stroke="#2a2a2a" stroke-width="1.2" fill="none"/>
<g clip-path="url(#cpf)">
<path d="M826.60,386.70 L826.60,386.08 L835.15,386.08 L835.15,384.68 L843.71,384.68 L843.71,382.04 L852.26,382.04 L852.26,378.62 L860.81,378.62 L860.81,373.88 L869.37,373.88 L869.37,367.43 L877.92,367.43 L877.92,358.73 L886.47,358.73 L886.47,348.39 L895.03,348.39 L895.03,337.67 L903.58,337.67 L903.58,326.72 L912.13,326.72 L912.13,317.94 L920.69,317.94 L920.69,312.89 L929.24,312.89 L929.24,311.49 L937.79,311.49 L937.79,316.54 L946.35,316.54 L946.35,324.77 L954.90,324.77 L954.90,335.03 L963.45,335.03 L963.45,346.76 L972.01,346.76 L972.01,355.78 L980.56,355.78 L980.56,364.40 L989.11,364.40 L989.11,370.54 L997.67,370.54 L997.67,374.81 L1006.22,374.81 L1006.22,378.31 L1014.77,378.31 L1014.77,380.87 L1023.33,380.87 L1023.33,382.89 L1031.88,382.89 L1031.88,383.98 L1040.43,383.98 L1040.43,384.99 L1048.99,384.99 L1048.99,385.69 L1057.54,385.69 L1057.54,386.08 L1066.09,386.08 L1066.09,386.31 L1074.65,386.31 L1074.65,386.47 L1083.20,386.47" fill="none" stroke="#e52020" stroke-width="1.75" stroke-linejoin="miter"/>
<path d="M826.60,386.70 L826.60,386.54 L835.15,386.54 L835.15,386.47 L843.71,386.47 L843.71,386.39 L852.26,386.39 L852.26,386.31 L860.81,386.31 L860.81,386.23 L869.37,386.23 L869.37,386.08 L877.92,386.08 L877.92,385.38 L886.47,385.38 L886.47,383.83 L895.03,383.83 L895.03,381.34 L903.58,381.34 L903.58,377.92 L912.13,377.92 L912.13,370.77 L920.69,370.77 L920.69,362.38 L929.24,362.38 L929.24,353.29 L937.79,353.29 L937.79,341.32 L946.35,341.32 L946.35,330.13 L954.90,330.13 L954.90,317.94 L963.45,317.94 L963.45,308.77 L972.01,308.77 L972.01,305.74 L980.56,305.74 L980.56,308.77 L989.11,308.77 L989.11,317.62 L997.67,317.62 L997.67,329.12 L1006.22,329.12 L1006.22,342.72 L1014.77,342.72 L1014.77,354.22 L1023.33,354.22 L1023.33,363.70 L1031.88,363.70 L1031.88,371.39 L1040.43,371.39 L1040.43,376.21 L1048.99,376.21 L1048.99,380.17 L1057.54,380.17 L1057.54,382.66 L1066.09,382.66 L1066.09,384.29 L1074.65,384.29 L1074.65,385.38 L1083.20,385.38" fill="none" stroke="#1515d2" stroke-width="1.75" stroke-linejoin="miter"/>
<line x1="931.04" y1="386.70" x2="931.04" y2="231.30" stroke="#c03a3a" stroke-width="1.6" stroke-dasharray="2.6 6.47"/>
<line x1="976.71" y1="386.70" x2="976.71" y2="231.30" stroke="#2a2a9a" stroke-width="1.6" stroke-dasharray="2.6 6.47"/>
</g>
<text x="826.60" y="409.90" text-anchor="middle">-1.0</text>
<text x="869.37" y="409.90" text-anchor="middle">-0.5</text>
<text x="912.13" y="409.90" text-anchor="middle">0.0</text>
<text x="954.90" y="409.90" text-anchor="middle">0.5</text>
<text x="997.67" y="409.90" text-anchor="middle">1.0</text>
<text x="1040.43" y="409.90" text-anchor="middle">1.5</text>
<text x="1083.20" y="409.90" text-anchor="middle">2.0</text>
<text x="821.40" y="387.90" text-anchor="end">0.0</text>
<text x="821.40" y="354.65" text-anchor="end">0.5</text>
<text x="821.40" y="315.80" text-anchor="end">1.0</text>
<text x="821.40" y="276.95" text-anchor="end">1.5</text>
<text x="821.40" y="242.70" text-anchor="end">2.0</text>
<text x="954.90" y="428.70" text-anchor="middle">Log<tspan dy="4.3" font-size="11">10</tspan><tspan dy="-4.3">(β</tspan><tspan dy="4.3" font-size="11">perp</tspan><tspan dy="-4.3">)</tspan></text>
<text transform="translate(782.98,308.40) rotate(-90)" text-anchor="middle">Probability Density</text>
<text x="1045.80" y="255.00">(f)</text>
<clipPath id="cpg"><rect x="78.40" y="457.20" width="258.60" height="156.60"/></clipPath>
<rect x="79.40" y="457.20" width="256.60" height="155.40" fill="none" stroke="#2a2a2a" stroke-width="1.4"/>
<path d="M79.40,612.60v-3.6M79.40,457.20v3.6M87.95,612.60v-1.9M87.95,457.20v1.9M96.51,612.60v-1.9M96.51,457.20v1.9M105.06,612.60v-1.9M105.06,457.20v1.9M113.61,612.60v-1.9M113.61,457.20v1.9M122.17,612.60v-3.6M122.17,457.20v3.6M130.72,612.60v-1.9M130.72,457.20v1.9M139.27,612.60v-1.9M139.27,457.20v1.9M147.83,612.60v-1.9M147.83,457.20v1.9M156.38,612.60v-1.9M156.38,457.20v1.9M164.93,612.60v-3.6M164.93,457.20v3.6M173.49,612.60v-1.9M173.49,457.20v1.9M182.04,612.60v-1.9M182.04,457.20v1.9M190.59,612.60v-1.9M190.59,457.20v1.9M199.15,612.60v-1.9M199.15,457.20v1.9M207.70,612.60v-3.6M207.70,457.20v3.6M216.25,612.60v-1.9M216.25,457.20v1.9M224.81,612.60v-1.9M224.81,457.20v1.9M233.36,612.60v-1.9M233.36,457.20v1.9M241.91,612.60v-1.9M241.91,457.20v1.9M250.47,612.60v-3.6M250.47,457.20v3.6M259.02,612.60v-1.9M259.02,457.20v1.9M267.57,612.60v-1.9M267.57,457.20v1.9M276.13,612.60v-1.9M276.13,457.20v1.9M284.68,612.60v-1.9M284.68,457.20v1.9M293.23,612.60v-3.6M293.23,457.20v3.6M301.79,612.60v-1.9M301.79,457.20v1.9M310.34,612.60v-1.9M310.34,457.20v1.9M318.89,612.60v-1.9M318.89,457.20v1.9M327.45,612.60v-1.9M327.45,457.20v1.9M336.00,612.60v-3.6M336.00,457.20v3.6M79.40,612.60h5.8M336.00,612.60h-5.8M79.40,607.42h2.9M336.00,607.42h-2.9M79.40,602.24h2.9M336.00,602.24h-2.9M79.40,597.06h2.9M336.00,597.06h-2.9M79.40,591.88h2.9M336.00,591.88h-2.9M79.40,586.70h5.8M336.00,586.70h-5.8M79.40,581.52h2.9M336.00,581.52h-2.9M79.40,576.34h2.9M336.00,576.34h-2.9M79.40,571.16h2.9M336.00,571.16h-2.9M79.40,565.98h2.9M336.00,565.98h-2.9M79.40,560.80h5.8M336.00,560.80h-5.8M79.40,555.62h2.9M336.00,555.62h-2.9M79.40,550.44h2.9M336.00,550.44h-2.9M79.40,545.26h2.9M336.00,545.26h-2.9M79.40,540.08h2.9M336.00,540.08h-2.9M79.40,534.90h5.8M336.00,534.90h-5.8M79.40,529.72h2.9M336.00,529.72h-2.9M79.40,524.54h2.9M336.00,524.54h-2.9M79.40,519.36h2.9M336.00,519.36h-2.9M79.40,514.18h2.9M336.00,514.18h-2.9M79.40,509.00h5.8M336.00,509.00h-5.8M79.40,503.82h2.9M336.00,503.82h-2.9M79.40,498.64h2.9M336.00,498.64h-2.9M79.40,493.46h2.9M336.00,493.46h-2.9M79.40,488.28h2.9M336.00,488.28h-2.9M79.40,483.10h5.8M336.00,483.10h-5.8M79.40,477.92h2.9M336.00,477.92h-2.9M79.40,472.74h2.9M336.00,472.74h-2.9M79.40,467.56h2.9M336.00,467.56h-2.9M79.40,462.38h2.9M336.00,462.38h-2.9M79.40,457.20h5.8M336.00,457.20h-5.8" stroke="#2a2a2a" stroke-width="1.2" fill="none"/>
<g clip-path="url(#cpg)">
<path d="M79.40,612.60 L79.40,592.92 L84.53,592.92 L84.53,500.19 L89.66,500.19 L89.66,469.48 L94.80,469.48 L94.80,486.00 L99.93,486.00 L99.93,514.18 L105.06,514.18 L105.06,534.38 L110.19,534.38 L110.19,550.80 L115.32,550.80 L115.32,565.82 L120.46,565.82 L120.46,576.08 L125.59,576.08 L125.59,585.09 L130.72,585.09 L130.72,591.52 L135.85,591.52 L135.85,595.82 L140.98,595.82 L140.98,598.98 L146.12,598.98 L146.12,601.83 L151.25,601.83 L151.25,604.10 L156.38,604.10 L156.38,605.81 L161.51,605.81 L161.51,607.32 L166.64,607.32 L166.64,608.40 L171.78,608.40 L171.78,609.08 L176.91,609.08 L176.91,609.65 L182.04,609.65 L182.04,610.08 L187.17,610.08 L187.17,610.44 L192.30,610.44 L192.30,610.81 L197.44,610.81 L197.44,611.22 L202.57,611.22 L202.57,611.61 L207.70,611.61 L207.70,611.86 L212.83,611.86 L212.83,612.01 L217.96,612.01 L217.96,612.12 L223.10,612.12 L223.10,612.20 L228.23,612.20 L228.23,612.27 L233.36,612.27 L233.36,612.33 L238.49,612.33 L238.49,612.38 L243.62,612.38 L243.62,612.42 L248.76,612.42 L248.76,612.45 L253.89,612.45 L253.89,612.47 L259.02,612.47 L259.02,612.48 L264.15,612.48 L264.15,612.50 L269.28,612.50 L269.28,612.51 L274.42,612.51 L274.42,612.53 L279.55,612.53 L279.55,612.54 L284.68,612.54 L284.68,612.55 L289.81,612.55 L289.81,612.56 L294.94,612.56 L294.94,612.57 L300.08,612.57 L300.08,612.58 L305.21,612.58 L305.21,612.58 L310.34,612.58 L310.34,612.59 L315.47,612.59 L315.47,612.59 L320.60,612.59 L320.60,612.60 L325.74,612.60 L325.74,612.60 L330.87,612.60 L330.87,612.60 L336.00,612.60" fill="none" stroke="#e52020" stroke-width="1.75" stroke-linejoin="miter"/>
<path d="M79.40,612.60 L79.40,612.60 L84.53,612.60 L84.53,612.08 L89.66,612.08 L89.66,611.05 L94.80,611.05 L94.80,607.94 L99.93,607.94 L99.93,603.69 L105.06,603.69 L105.06,598.98 L110.19,598.98 L110.19,591.52 L115.32,591.52 L115.32,580.79 L120.46,580.79 L120.46,568.57 L125.59,568.57 L125.59,558.62 L130.72,558.62 L130.72,552.20 L135.85,552.20 L135.85,549.82 L140.98,549.82 L140.98,551.22 L146.12,551.22 L146.12,556.14 L151.25,556.14 L151.25,561.53 L156.38,561.53 L156.38,566.50 L161.51,566.50 L161.51,572.20 L166.64,572.20 L166.64,577.22 L171.78,577.22 L171.78,581.52 L176.91,581.52 L176.91,585.40 L182.04,585.40 L182.04,588.72 L187.17,588.72 L187.17,592.16 L192.30,592.16 L192.30,595.11 L197.44,595.11 L197.44,597.19 L202.57,597.19 L202.57,598.91 L207.70,598.91 L207.70,600.44 L212.83,600.44 L212.83,601.84 L217.96,601.84 L217.96,603.08 L223.10,603.08 L223.10,604.18 L228.23,604.18 L228.23,605.17 L233.36,605.17 L233.36,606.03 L238.49,606.03 L238.49,606.75 L243.62,606.75 L243.62,607.36 L248.76,607.36 L248.76,607.92 L253.89,607.92 L253.89,608.49 L259.02,608.49 L259.02,609.07 L264.15,609.07 L264.15,609.54 L269.28,609.54 L269.28,609.85 L274.42,609.85 L274.42,610.09 L279.55,610.09 L279.55,610.32 L284.68,610.32 L284.68,610.57 L289.81,610.57 L289.81,610.81 L294.94,610.81 L294.94,611.03 L300.08,611.03 L300.08,611.25 L305.21,611.25 L305.21,611.48 L310.34,611.48 L310.34,611.69 L315.47,611.69 L315.47,611.88 L320.60,611.88 L320.60,612.02 L325.74,612.02 L325.74,612.12 L330.87,612.12 L330.87,612.19 L336.00,612.19" fill="none" stroke="#1515d2" stroke-width="1.75" stroke-linejoin="miter"/>
<line x1="101.64" y1="612.60" x2="101.64" y2="457.20" stroke="#c03a3a" stroke-width="1.6" stroke-dasharray="2.6 6.47"/>
<line x1="152.19" y1="612.60" x2="152.19" y2="457.20" stroke="#2a2a9a" stroke-width="1.6" stroke-dasharray="2.6 6.47"/>
</g>
<text x="79.40" y="635.80" text-anchor="middle">0</text>
<text x="122.17" y="635.80" text-anchor="middle">50</text>
<text x="164.93" y="635.80" text-anchor="middle">100</text>
<text x="207.70" y="635.80" text-anchor="middle">150</text>
<text x="250.47" y="635.80" text-anchor="middle">200</text>
<text x="293.23" y="635.80" text-anchor="middle">250</text>
<text x="336.00" y="635.80" text-anchor="middle">300</text>
<text x="74.20" y="613.80" text-anchor="end">0.000</text>
<text x="74.20" y="593.50" text-anchor="end">0.005</text>
<text x="74.20" y="567.60" text-anchor="end">0.010</text>
<text x="74.20" y="541.70" text-anchor="end">0.015</text>
<text x="74.20" y="515.80" text-anchor="end">0.020</text>
<text x="74.20" y="489.90" text-anchor="end">0.025</text>
<text x="74.20" y="468.60" text-anchor="end">0.030</text>
<text x="207.70" y="654.60" text-anchor="middle">T<tspan dy="4.3" font-size="11">par</tspan><tspan dy="-4.3"> [eV]</tspan></text>
<text transform="translate(15.76,534.30) rotate(-90)" text-anchor="middle">Probability Density</text>
<text x="298.60" y="480.90">(g)</text>
<clipPath id="cph"><rect x="451.80" y="457.20" width="258.60" height="156.60"/></clipPath>
<rect x="452.80" y="457.20" width="256.60" height="155.40" fill="none" stroke="#2a2a2a" stroke-width="1.4"/>
<path d="M452.80,612.60v-3.6M452.80,457.20v3.6M463.06,612.60v-1.9M463.06,457.20v1.9M473.33,612.60v-1.9M473.33,457.20v1.9M483.59,612.60v-1.9M483.59,457.20v1.9M493.86,612.60v-1.9M493.86,457.20v1.9M504.12,612.60v-3.6M504.12,457.20v3.6M514.38,612.60v-1.9M514.38,457.20v1.9M524.65,612.60v-1.9M524.65,457.20v1.9M534.91,612.60v-1.9M534.91,457.20v1.9M545.18,612.60v-1.9M545.18,457.20v1.9M555.44,612.60v-3.6M555.44,457.20v3.6M565.70,612.60v-1.9M565.70,457.20v1.9M575.97,612.60v-1.9M575.97,457.20v1.9M586.23,612.60v-1.9M586.23,457.20v1.9M596.50,612.60v-1.9M596.50,457.20v1.9M606.76,612.60v-3.6M606.76,457.20v3.6M617.02,612.60v-1.9M617.02,457.20v1.9M627.29,612.60v-1.9M627.29,457.20v1.9M637.55,612.60v-1.9M637.55,457.20v1.9M647.82,612.60v-1.9M647.82,457.20v1.9M658.08,612.60v-3.6M658.08,457.20v3.6M668.34,612.60v-1.9M668.34,457.20v1.9M678.61,612.60v-1.9M678.61,457.20v1.9M688.87,612.60v-1.9M688.87,457.20v1.9M699.14,612.60v-1.9M699.14,457.20v1.9M709.40,612.60v-3.6M709.40,457.20v3.6M452.80,612.60h5.8M709.40,612.60h-5.8M452.80,608.72h2.9M709.40,608.72h-2.9M452.80,604.83h2.9M709.40,604.83h-2.9M452.80,600.95h2.9M709.40,600.95h-2.9M452.80,597.06h2.9M709.40,597.06h-2.9M452.80,593.18h2.9M709.40,593.18h-2.9M452.80,589.29h2.9M709.40,589.29h-2.9M452.80,585.40h2.9M709.40,585.40h-2.9M452.80,581.52h2.9M709.40,581.52h-2.9M452.80,577.63h2.9M709.40,577.63h-2.9M452.80,573.75h5.8M709.40,573.75h-5.8M452.80,569.87h2.9M709.40,569.87h-2.9M452.80,565.98h2.9M709.40,565.98h-2.9M452.80,562.10h2.9M709.40,562.10h-2.9M452.80,558.21h2.9M709.40,558.21h-2.9M452.80,554.33h2.9M709.40,554.33h-2.9M452.80,550.44h2.9M709.40,550.44h-2.9M452.80,546.56h2.9M709.40,546.56h-2.9M452.80,542.67h2.9M709.40,542.67h-2.9M452.80,538.79h2.9M709.40,538.79h-2.9M452.80,534.90h5.8M709.40,534.90h-5.8M452.80,531.01h2.9M709.40,531.01h-2.9M452.80,527.13h2.9M709.40,527.13h-2.9M452.80,523.25h2.9M709.40,523.25h-2.9M452.80,519.36h2.9M709.40,519.36h-2.9M452.80,515.48h2.9M709.40,515.48h-2.9M452.80,511.59h2.9M709.40,511.59h-2.9M452.80,507.71h2.9M709.40,507.71h-2.9M452.80,503.82h2.9M709.40,503.82h-2.9M452.80,499.94h2.9M709.40,499.94h-2.9M452.80,496.05h5.8M709.40,496.05h-5.8M452.80,492.17h2.9M709.40,492.17h-2.9M452.80,488.28h2.9M709.40,488.28h-2.9M452.80,484.40h2.9M709.40,484.40h-2.9M452.80,480.51h2.9M709.40,480.51h-2.9M452.80,476.62h2.9M709.40,476.62h-2.9M452.80,472.74h2.9M709.40,472.74h-2.9M452.80,468.86h2.9M709.40,468.86h-2.9M452.80,464.97h2.9M709.40,464.97h-2.9M452.80,461.09h2.9M709.40,461.09h-2.9M452.80,457.20h5.8M709.40,457.20h-5.8" stroke="#2a2a2a" stroke-width="1.2" fill="none"/>
<g clip-path="url(#cph)">
<path d="M452.80,612.60 L452.80,566.37 L457.93,566.37 L457.93,488.40 L463.06,488.40 L463.06,492.01 L468.20,492.01 L468.20,515.48 L473.33,515.48 L473.33,536.45 L478.46,536.45 L478.46,553.35 L483.59,553.35 L483.59,566.49 L488.72,566.49 L488.72,577.01 L493.86,577.01 L493.86,584.32 L498.99,584.32 L498.99,590.18 L504.12,590.18 L504.12,595.12 L509.25,595.12 L509.25,598.69 L514.38,598.69 L514.38,601.49 L519.52,601.49 L519.52,603.78 L524.65,603.78 L524.65,605.49 L529.78,605.49 L529.78,606.81 L534.91,606.81 L534.91,607.78 L540.04,607.78 L540.04,608.52 L545.18,608.52 L545.18,609.10 L550.31,609.10 L550.31,609.45 L555.44,609.45 L555.44,609.73 L560.57,609.73 L560.57,609.98 L565.70,609.98 L565.70,610.22 L570.84,610.22 L570.84,610.43 L575.97,610.43 L575.97,610.64 L581.10,610.64 L581.10,610.83 L586.23,610.83 L586.23,611.02 L591.36,611.02 L591.36,611.21 L596.50,611.21 L596.50,611.39 L601.63,611.39 L601.63,611.54 L606.76,611.54 L606.76,611.68 L611.89,611.68 L611.89,611.79 L617.02,611.79 L617.02,611.89 L622.16,611.89 L622.16,611.97 L627.29,611.97 L627.29,612.04 L632.42,612.04 L632.42,612.11 L637.55,612.11 L637.55,612.16 L642.68,612.16 L642.68,612.21 L647.82,612.21 L647.82,612.25 L652.95,612.25 L652.95,612.29 L658.08,612.29 L658.08,612.33 L663.21,612.33 L663.21,612.35 L668.34,612.35 L668.34,612.38 L673.48,612.38 L673.48,612.40 L678.61,612.40 L678.61,612.42 L683.74,612.42 L683.74,612.44 L688.87,612.44 L688.87,612.46 L694.00,612.46 L694.00,612.47 L699.14,612.47 L699.14,612.48 L704.27,612.48 L704.27,612.48 L709.40,612.48" fill="none" stroke="#e52020" stroke-width="1.75" stroke-linejoin="miter"/>
<path d="M452.80,612.60 L452.80,612.60 L457.93,612.60 L457.93,612.41 L463.06,612.41 L463.06,611.82 L468.20,611.82 L468.20,607.63 L473.33,607.63 L473.33,601.72 L478.46,601.72 L478.46,592.51 L483.59,592.51 L483.59,586.30 L488.72,586.30 L488.72,579.69 L493.86,579.69 L493.86,576.70 L498.99,576.70 L498.99,575.61 L504.12,575.61 L504.12,575.19 L509.25,575.19 L509.25,576.70 L514.38,576.70 L514.38,578.41 L519.52,578.41 L519.52,580.39 L524.65,580.39 L524.65,582.69 L529.78,582.69 L529.78,584.90 L534.91,584.90 L534.91,587.19 L540.04,587.19 L540.04,589.10 L545.18,589.10 L545.18,590.84 L550.31,590.84 L550.31,592.51 L555.44,592.51 L555.44,593.18 L560.57,593.18 L560.57,594.08 L565.70,594.08 L565.70,595.18 L570.84,595.18 L570.84,596.38 L575.97,596.38 L575.97,597.56 L581.10,597.56 L581.10,598.63 L586.23,598.63 L586.23,599.63 L591.36,599.63 L591.36,600.61 L596.50,600.61 L596.50,601.55 L601.63,601.55 L601.63,602.44 L606.76,602.44 L606.76,603.25 L611.89,603.25 L611.89,603.97 L617.02,603.97 L617.02,604.63 L622.16,604.63 L622.16,605.25 L627.29,605.25 L627.29,605.82 L632.42,605.82 L632.42,606.34 L637.55,606.34 L637.55,606.82 L642.68,606.82 L642.68,607.25 L647.82,607.25 L647.82,607.66 L652.95,607.66 L652.95,608.04 L658.08,608.04 L658.08,608.39 L663.21,608.39 L663.21,608.70 L668.34,608.70 L668.34,608.98 L673.48,608.98 L673.48,609.24 L678.61,609.24 L678.61,609.48 L683.74,609.48 L683.74,609.70 L688.87,609.70 L688.87,609.90 L694.00,609.90 L694.00,610.07 L699.14,610.07 L699.14,610.21 L704.27,610.21 L704.27,610.32 L709.40,610.32" fill="none" stroke="#1515d2" stroke-width="1.75" stroke-linejoin="miter"/>
<line x1="473.43" y1="612.60" x2="473.43" y2="457.20" stroke="#c03a3a" stroke-width="1.6" stroke-dasharray="2.6 6.47"/>
<line x1="537.99" y1="612.60" x2="537.99" y2="457.20" stroke="#2a2a9a" stroke-width="1.6" stroke-dasharray="2.6 6.47"/>
</g>
<text x="452.80" y="635.80" text-anchor="middle">0.00</text>
<text x="504.12" y="635.80" text-anchor="middle">0.05</text>
<text x="555.44" y="635.80" text-anchor="middle">0.10</text>
<text x="606.76" y="635.80" text-anchor="middle">0.15</text>
<text x="658.08" y="635.80" text-anchor="middle">0.20</text>
<text x="709.40" y="635.80" text-anchor="middle">0.25</text>
<text x="447.60" y="613.80" text-anchor="end">0</text>
<text x="447.60" y="580.55" text-anchor="end">10</text>
<text x="447.60" y="541.70" text-anchor="end">20</text>
<text x="447.60" y="502.85" text-anchor="end">30</text>
<text x="447.60" y="468.60" text-anchor="end">40</text>
<text x="581.10" y="654.60" text-anchor="middle">P<tspan dy="4.3" font-size="11">par</tspan><tspan dy="-4.3"> [nPa]</tspan></text>
<text transform="translate(414.18,534.30) rotate(-90)" text-anchor="middle">Probability Density</text>
<text x="672.00" y="480.90">(h)</text>
<clipPath id="cpi"><rect x="825.60" y="457.20" width="258.60" height="156.60"/></clipPath>
<rect x="826.60" y="457.20" width="256.60" height="155.40" fill="none" stroke="#2a2a2a" stroke-width="1.4"/>
<path d="M826.60,612.60v-3.6M826.60,457.20v3.6M835.15,612.60v-1.9M835.15,457.20v1.9M843.71,612.60v-1.9M843.71,457.20v1.9M852.26,612.60v-1.9M852.26,457.20v1.9M860.81,612.60v-1.9M860.81,457.20v1.9M869.37,612.60v-3.6M869.37,457.20v3.6M877.92,612.60v-1.9M877.92,457.20v1.9M886.47,612.60v-1.9M886.47,457.20v1.9M895.03,612.60v-1.9M895.03,457.20v1.9M903.58,612.60v-1.9M903.58,457.20v1.9M912.13,612.60v-3.6M912.13,457.20v3.6M920.69,612.60v-1.9M920.69,457.20v1.9M929.24,612.60v-1.9M929.24,457.20v1.9M937.79,612.60v-1.9M937.79,457.20v1.9M946.35,612.60v-1.9M946.35,457.20v1.9M954.90,612.60v-3.6M954.90,457.20v3.6M963.45,612.60v-1.9M963.45,457.20v1.9M972.01,612.60v-1.9M972.01,457.20v1.9M980.56,612.60v-1.9M980.56,457.20v1.9M989.11,612.60v-1.9M989.11,457.20v1.9M997.67,612.60v-3.6M997.67,457.20v3.6M1006.22,612.60v-1.9M1006.22,457.20v1.9M1014.77,612.60v-1.9M1014.77,457.20v1.9M1023.33,612.60v-1.9M1023.33,457.20v1.9M1031.88,612.60v-1.9M1031.88,457.20v1.9M1040.43,612.60v-3.6M1040.43,457.20v3.6M1048.99,612.60v-1.9M1048.99,457.20v1.9M1057.54,612.60v-1.9M1057.54,457.20v1.9M1066.09,612.60v-1.9M1066.09,457.20v1.9M1074.65,612.60v-1.9M1074.65,457.20v1.9M1083.20,612.60v-3.6M1083.20,457.20v3.6M826.60,612.60h5.8M1083.20,612.60h-5.8M826.60,604.83h2.9M1083.20,604.83h-2.9M826.60,597.06h2.9M1083.20,597.06h-2.9M826.60,589.29h2.9M1083.20,589.29h-2.9M826.60,581.52h2.9M1083.20,581.52h-2.9M826.60,573.75h5.8M1083.20,573.75h-5.8M826.60,565.98h2.9M1083.20,565.98h-2.9M826.60,558.21h2.9M1083.20,558.21h-2.9M826.60,550.44h2.9M1083.20,550.44h-2.9M826.60,542.67h2.9M1083.20,542.67h-2.9M826.60,534.90h5.8M1083.20,534.90h-5.8M826.60,527.13h2.9M1083.20,527.13h-2.9M826.60,519.36h2.9M1083.20,519.36h-2.9M826.60,511.59h2.9M1083.20,511.59h-2.9M826.60,503.82h2.9M1083.20,503.82h-2.9M826.60,496.05h5.8M1083.20,496.05h-5.8M826.60,488.28h2.9M1083.20,488.28h-2.9M826.60,480.51h2.9M1083.20,480.51h-2.9M826.60,472.74h2.9M1083.20,472.74h-2.9M826.60,464.97h2.9M1083.20,464.97h-2.9M826.60,457.20h5.8M1083.20,457.20h-5.8" stroke="#2a2a2a" stroke-width="1.2" fill="none"/>
<g clip-path="url(#cpi)">
<path d="M826.60,612.60 L826.60,601.02 L835.15,601.02 L835.15,595.74 L843.71,595.74 L843.71,589.52 L852.26,589.52 L852.26,582.92 L860.81,582.92 L860.81,576.47 L869.37,576.47 L869.37,570.80 L877.92,570.80 L877.92,563.88 L886.47,563.88 L886.47,558.68 L895.03,558.68 L895.03,554.79 L903.58,554.79 L903.58,554.79 L912.13,554.79 L912.13,555.41 L920.69,555.41 L920.69,558.37 L929.24,558.37 L929.24,564.74 L937.79,564.74 L937.79,569.01 L946.35,569.01 L946.35,575.07 L954.90,575.07 L954.90,582.37 L963.45,582.37 L963.45,588.20 L972.01,588.20 L972.01,593.02 L980.56,593.02 L980.56,596.90 L989.11,596.90 L989.11,600.48 L997.67,600.48 L997.67,603.82 L1006.22,603.82 L1006.22,606.31 L1014.77,606.31 L1014.77,608.17 L1023.33,608.17 L1023.33,609.57 L1031.88,609.57 L1031.88,610.58 L1040.43,610.58 L1040.43,611.28 L1048.99,611.28 L1048.99,611.67 L1057.54,611.67 L1057.54,611.98 L1066.09,611.98 L1066.09,612.21 L1074.65,612.21 L1074.65,612.37 L1083.20,612.37" fill="none" stroke="#e52020" stroke-width="1.75" stroke-linejoin="miter"/>
<path d="M826.60,612.60 L826.60,612.37 L835.15,612.37 L835.15,612.37 L843.71,612.37 L843.71,612.29 L852.26,612.29 L852.26,612.21 L860.81,612.21 L860.81,611.12 L869.37,611.12 L869.37,607.78 L877.92,607.78 L877.92,604.60 L886.47,604.60 L886.47,601.88 L895.03,601.88 L895.03,597.06 L903.58,597.06 L903.58,591.62 L912.13,591.62 L912.13,584.78 L920.69,584.78 L920.69,575.77 L929.24,575.77 L929.24,566.68 L937.79,566.68 L937.79,558.37 L946.35,558.37 L946.35,549.59 L954.90,549.59 L954.90,543.91 L963.45,543.91 L963.45,541.66 L972.01,541.66 L972.01,544.61 L980.56,544.61 L980.56,549.90 L989.11,549.90 L989.11,559.69 L997.67,559.69 L997.67,569.09 L1006.22,569.09 L1006.22,579.27 L1014.77,579.27 L1014.77,587.89 L1023.33,587.89 L1023.33,594.73 L1031.88,594.73 L1031.88,600.17 L1040.43,600.17 L1040.43,604.13 L1048.99,604.13 L1048.99,607.01 L1057.54,607.01 L1057.54,608.87 L1066.09,608.87 L1066.09,610.04 L1074.65,610.04 L1074.65,611.05 L1083.20,611.05" fill="none" stroke="#1515d2" stroke-width="1.75" stroke-linejoin="miter"/>
<line x1="910.42" y1="612.60" x2="910.42" y2="457.20" stroke="#c03a3a" stroke-width="1.6" stroke-dasharray="2.6 6.47"/>
<line x1="966.28" y1="612.60" x2="966.28" y2="457.20" stroke="#2a2a9a" stroke-width="1.6" stroke-dasharray="2.6 6.47"/>
</g>
<text x="826.60" y="635.80" text-anchor="middle">-1.0</text>
<text x="869.37" y="635.80" text-anchor="middle">-0.5</text>
<text x="912.13" y="635.80" text-anchor="middle">0.0</text>
<text x="954.90" y="635.80" text-anchor="middle">0.5</text>
<text x="997.67" y="635.80" text-anchor="middle">1.0</text>
<text x="1040.43" y="635.80" text-anchor="middle">1.5</text>
<text x="1083.20" y="635.80" text-anchor="middle">2.0</text>
<text x="821.40" y="613.80" text-anchor="end">0.0</text>
<text x="821.40" y="580.55" text-anchor="end">0.5</text>
<text x="821.40" y="541.70" text-anchor="end">1.0</text>
<text x="821.40" y="502.85" text-anchor="end">1.5</text>
<text x="821.40" y="468.60" text-anchor="end">2.0</text>
<text x="954.90" y="654.60" text-anchor="middle">Log<tspan dy="4.3" font-size="11">10</tspan><tspan dy="-4.3">(β</tspan><tspan dy="4.3" font-size="11">par</tspan><tspan dy="-4.3">)</tspan></text>
<text transform="translate(782.98,534.30) rotate(-90)" text-anchor="middle">Probability Density</text>
<text x="1045.80" y="480.90">(i)</text>
</svg>
</body></html>
